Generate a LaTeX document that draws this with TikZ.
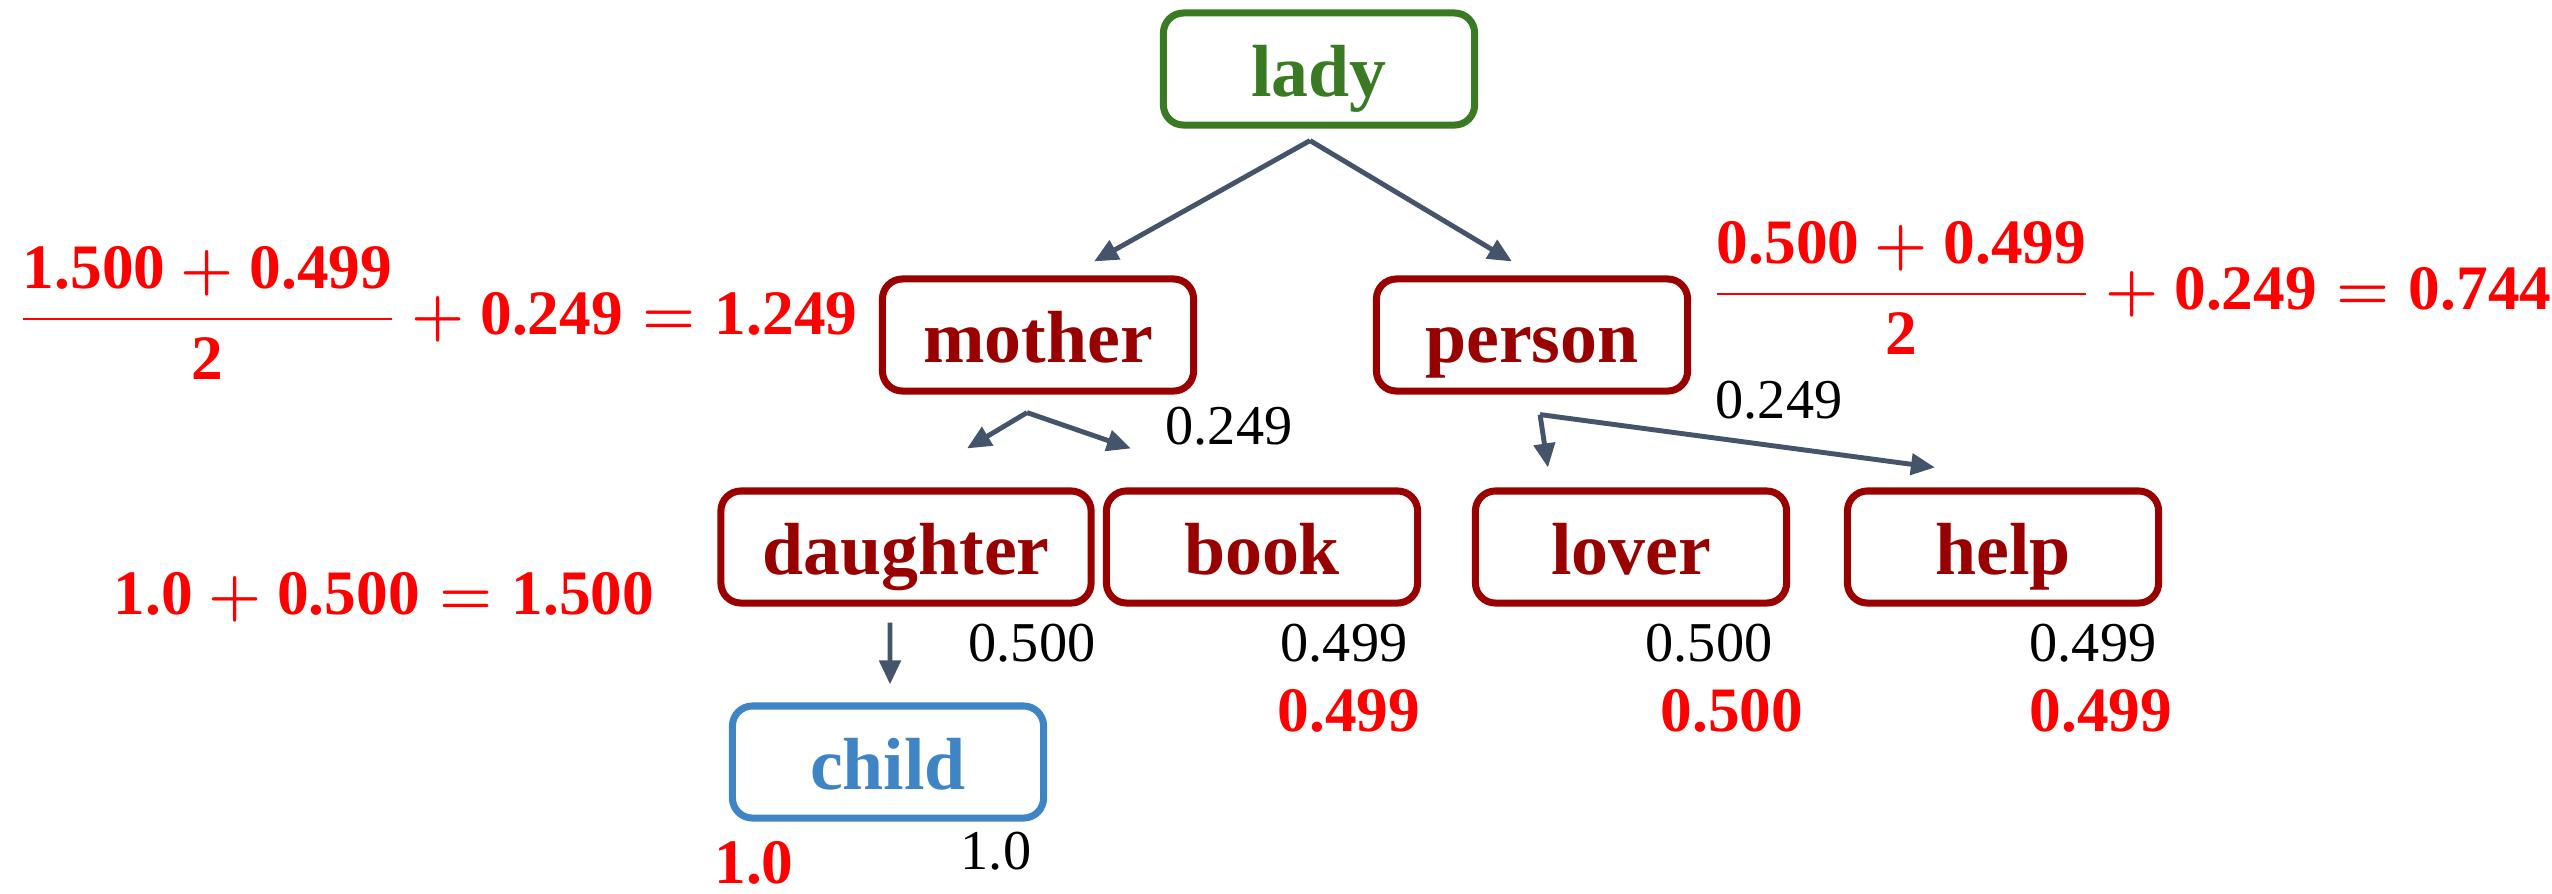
\documentclass[tikz,border=0pt]{standalone}
\usepackage{amsmath}
\usepackage{fontspec}
\setmainfont{Liberation Serif}
\usetikzlibrary{arrows.meta}
\definecolor{wordred}{HTML}{990000}
\definecolor{rootgreen}{HTML}{3A7A22}
\definecolor{leafblue}{HTML}{3F85C6}
\definecolor{edgegray}{HTML}{44546A}
\tikzset{
  word/.style={draw=wordred, text=wordred, line width=2pt, rounded corners=0.2cm,
    minimum width=3.11cm, minimum height=1.12cm, inner ysep=0.1cm,
    text height=0.6cm, text depth=0.06cm, font=\fontsize{21}{25}\selectfont\bfseries},
  edge/.style={draw=edgegray, line width=1.4pt, -{Triangle[length=0.24cm,width=0.21cm]}},
  weight/.style={font=\fontsize{16}{19}\selectfont},
  score/.style={text=red, inner sep=0pt, font=\fontsize{18}{22}\selectfont\bfseries\boldmath},
}
\begin{document}
\begin{tikzpicture}[x=0.01cm, y=-0.01cm]
    \useasboundingbox (0,0) rectangle (2552,893);
    % raiz
    \node[word, draw=rootgreen, text=rootgreen] (lady) at (1319,69) {lady};
    % primeiro nivel
    \node[word] (mother) at (1038,335) {mother};
    \node[word] (person) at (1532,335) {person};
    % segundo nivel
    \node[word, minimum width=3.7cm] (daughter) at (906,547) {daughter};
    \node[word] (book) at (1262,547) {book};
    \node[word] (lover) at (1631,547) {lover};
    \node[word] (help) at (2003,547) {help};
    % folha
    \node[word, draw=leafblue, text=leafblue] (child) at (888,762) {child};
    % pontos de onde saem as setas
    \coordinate (ladyfork) at ([xshift=-0.09cm,yshift=-0.12cm]lady.south);
    \coordinate (motherfork) at ([xshift=-0.11cm,yshift=-0.18cm]mother.south);
    \coordinate (personfork) at ([xshift=0.08cm,yshift=-0.2cm]person.south);
    % setas entre as palavras
    \draw[edge] (ladyfork) -- ([xshift=0.56cm,yshift=0.14cm]mother.north);
    \draw[edge] (ladyfork) -- ([xshift=-0.2cm,yshift=0.14cm]person.north);
    \draw[edge] (motherfork) -- ([xshift=0.61cm,yshift=0.39cm]daughter.north);
    \draw[edge] (motherfork) -- ([xshift=-1.31cm,yshift=0.39cm]book.north);
    \draw[edge] (personfork) -- ([xshift=-0.83cm,yshift=0.2cm]lover.north);
    \draw[edge] (personfork) -- ([xshift=-0.68cm,yshift=0.2cm]help.north);
    \draw[edge] ([xshift=-0.16cm,yshift=-0.16cm]daughter.south) -- ([xshift=0.02cm,yshift=0.18cm]child.north);
    % pesos das arestas
    \node[weight] (wmother) at (1229,426) {0.249};
    \node[weight] (wperson) at (1779,400) {0.249};
    \node[weight] (wdaughter) at (1032,643) {0.500};
    \node[weight] (wbook) at (1344,643) {0.499};
    \node[weight] (wlover) at (1709,643) {0.500};
    \node[weight] (whelp) at (2093,643) {0.499};
    \node[weight] (wchild) at (996,851) {1.0};
    % valores calculados
    \node[score] (sbook) at (1349,711) {0.499};
    \node[score] (slover) at (1732,711) {0.500};
    \node[score] (shelp) at (2101,711) {0.499};
    \node[score] (schild) at (754,863) {1.0};
    \node[score] (sdaughter) at (384,597) {$\textbf{1.0} + \textbf{0.500} = \textbf{1.500}$};
    \node[score, anchor=base east] (smother) at (858,334)
      {$\dfrac{\textbf{1.500} + \textbf{0.499}}{\textbf{2}} + \textbf{0.249} = \textbf{1.249}$};
    \node[score, anchor=base west] (sperson) at (1712,309)
      {$\dfrac{\textbf{0.500} + \textbf{0.499}}{\textbf{2}} + \textbf{0.249} = \textbf{0.744}$};
\end{tikzpicture}
\end{document}
